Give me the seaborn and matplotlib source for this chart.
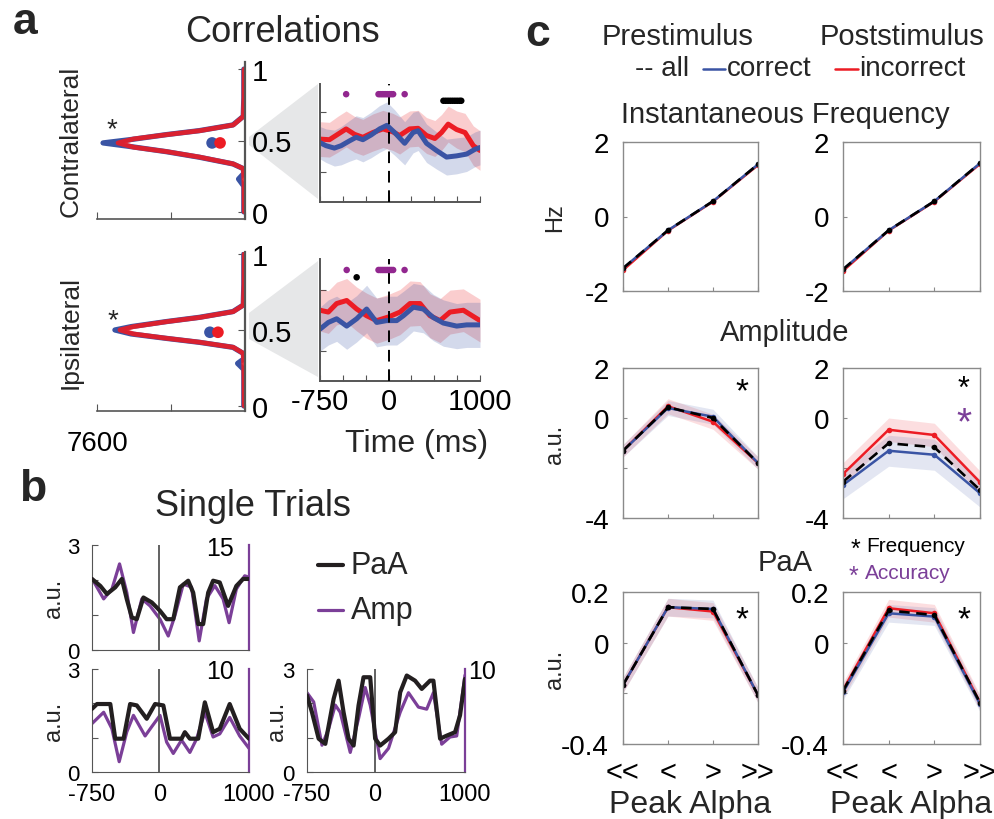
import matplotlib
matplotlib.use("Agg")
import numpy as np
import matplotlib.pyplot as plt
import seaborn as sns
from matplotlib.patches import Polygon
from matplotlib.lines import Line2D

W, H = 995, 820

sns.set_style("ticks")
plt.rcParams["font.family"] = ["Liberation Sans", "DejaVu Sans"]
plt.rcParams["xtick.direction"] = "in"
plt.rcParams["ytick.direction"] = "in"
plt.rcParams["axes.edgecolor"] = "#555555"
plt.rcParams["xtick.color"] = "#555555"
plt.rcParams["ytick.color"] = "#555555"
plt.rcParams["xtick.labelcolor"] = "black"
plt.rcParams["ytick.labelcolor"] = "black"

RED = "#ec1c24"
BLUE = "#3a54a4"
PURPLE = "#7b3f98"
SIGPURPLE = "#92278f"
WEDGE = "#e6e7e8"

# ---------------- (a) correlation distributions (count per correlation bin)
contra_corr_incorrect = [0.00, 0.20, 0.303, 0.336, 0.383, 0.422, 0.453, 0.483, 0.511, 0.541, 0.569, 0.609, 0.669, 0.80, 1.00]
contra_count_incorrect = [40, 50, 85, 600, 2300, 4010, 5720, 6520, 5720, 4010, 2300, 600, 85, 50, 40]
contra_corr_correct = [0.00, 0.18, 0.23, 0.27, 0.303, 0.336, 0.383, 0.422, 0.458, 0.483, 0.506, 0.541, 0.569, 0.609, 0.669, 0.80, 1.00]
contra_count_correct = [60, 60, 330, 60, 90, 620, 2350, 4050, 5900, 7290, 5900, 4050, 2350, 620, 90, 60, 60]

ipsi_corr_incorrect = [0.00, 0.20, 0.346, 0.386, 0.419, 0.445, 0.474, 0.500, 0.522, 0.555, 0.583, 0.621, 0.664, 0.80, 1.00]
ipsi_count_incorrect = [40, 50, 85, 600, 2300, 4010, 5720, 6420, 5720, 4010, 2300, 600, 85, 50, 40]
ipsi_corr_correct = [0.00, 0.24, 0.28, 0.31, 0.346, 0.386, 0.419, 0.445, 0.474, 0.500, 0.522, 0.555, 0.583, 0.621, 0.664, 0.80, 1.00]
ipsi_count_correct = [60, 60, 380, 60, 90, 620, 2350, 4050, 5850, 6680, 5850, 4050, 2350, 620, 90, 60, 60]

contra_mean_corr = [0.483, 0.483]
contra_mean_count = [1690, 1280]
ipsi_mean_corr = [0.485, 0.485]
ipsi_mean_count = [1800, 1390]

# (a) correlation time courses, mean and SEM
contra_t_correct = [-750, -684, -593, -519, -428, -355, -281, -190, -98, -18, 66, 176, 268, 323, 415, 524, 634, 744, 854, 945, 1000]
contra_r_correct = [0.499, 0.494, 0.490, 0.494, 0.502, 0.508, 0.504, 0.512, 0.522, 0.528, 0.516, 0.498, 0.516, 0.519, 0.498, 0.486, 0.475, 0.477, 0.480, 0.488, 0.491]
contra_sem_correct = [0.027, 0.028, 0.030, 0.032, 0.034, 0.036, 0.037, 0.038, 0.039, 0.039, 0.038, 0.036, 0.034, 0.033, 0.032, 0.031, 0.030, 0.030, 0.029, 0.029, 0.029]
contra_t_incorrect = [-750, -647, -556, -464, -373, -281, -172, -62, 48, 121, 231, 323, 415, 506, 579, 652, 744, 836, 927, 1000]
contra_r_incorrect = [0.505, 0.504, 0.513, 0.522, 0.513, 0.508, 0.516, 0.522, 0.517, 0.511, 0.522, 0.523, 0.511, 0.506, 0.516, 0.530, 0.521, 0.516, 0.494, 0.486]
contra_sem_incorrect = [0.029, 0.029, 0.030, 0.030, 0.030, 0.030, 0.031, 0.031, 0.031, 0.031, 0.030, 0.030, 0.030, 0.030, 0.030, 0.030, 0.031, 0.032, 0.033, 0.033]

ipsi_t_correct = [-750, -659, -568, -458, -349, -240, -130, -21, 89, 162, 271, 380, 490, 599, 745, 854, 1000]
ipsi_r_correct = [0.485, 0.496, 0.502, 0.490, 0.502, 0.518, 0.496, 0.499, 0.499, 0.507, 0.521, 0.518, 0.504, 0.495, 0.490, 0.492, 0.492]
ipsi_sem_correct = [0.036, 0.037, 0.037, 0.038, 0.038, 0.039, 0.040, 0.040, 0.040, 0.040, 0.039, 0.039, 0.038, 0.038, 0.037, 0.037, 0.037]
ipsi_t_incorrect = [-750, -659, -568, -458, -349, -240, -130, 0, 125, 234, 344, 453, 563, 672, 818, 1000]
ipsi_r_incorrect = [0.516, 0.513, 0.527, 0.532, 0.518, 0.507, 0.499, 0.505, 0.513, 0.527, 0.527, 0.507, 0.499, 0.513, 0.516, 0.499]
ipsi_sem_incorrect = [0.034, 0.035, 0.035, 0.036, 0.036, 0.037, 0.037, 0.037, 0.037, 0.037, 0.036, 0.036, 0.036, 0.036, 0.035, 0.035]

# significant time points (accuracy effect / frequency effect)
contra_sig_acc_t = [-464, -110, -90, -70, -50, -30, -10, 10, 30, 50, 176]
contra_sig_freq_t = [600, 625, 650, 675, 700, 725, 750, 775, 795]
ipsi_sig_acc_t = [-458, -110, -90, -70, -50, -30, -10, 10, 30, 50, 175]
ipsi_sig_freq_t = [-349]

# ---------------- (b) single trials
st1_t_paa = [-750, -657, -584, -491, -417, -362, -306, -251, -177, -84, 8, 82, 156, 230, 322, 378, 434, 489, 545, 600, 674, 767, 859, 934, 1000]
st1_paa = [2.03, 1.83, 1.60, 1.79, 2.03, 1.45, 0.93, 0.88, 1.50, 1.36, 1.12, 0.88, 0.88, 1.79, 1.98, 1.64, 0.74, 0.74, 1.64, 1.98, 1.93, 1.26, 1.83, 2.03, 2.03]
st1_t_amp = [-750, -620, -528, -443, -362, -288, -195, -103, 8, 100, 174, 267, 359, 445, 526, 619, 711, 778, 859, 952, 1000]
st1_amp = [10.2, 7.3, 8.7, 12.3, 8.2, 2.5, 7.3, 6.3, 4.4, 2.0, 4.9, 9.4, 9.0, 1.3, 7.3, 9.2, 7.3, 3.9, 8.7, 10.6, 10.4]

st2_t_paa = [-750, -694, -546, -491, -398, -325, -251, -140, -47, 45, 119, 248, 285, 341, 434, 508, 600, 674, 785, 896, 1000]
st2_paa = [1.84, 1.98, 1.98, 0.97, 0.97, 1.98, 1.94, 1.55, 1.98, 1.94, 0.97, 0.97, 1.16, 0.97, 0.97, 2.03, 1.16, 1.26, 1.98, 1.26, 0.97]
st2_t_amp = [-750, -620, -528, -447, -362, -288, -158, -84, 8, 82, 156, 248, 341, 415, 508, 600, 674, 785, 896, 1000]
st2_amp = [4.7, 5.8, 4.2, 1.0, 3.9, 5.5, 3.5, 4.4, 5.5, 2.9, 1.8, 3.1, 1.9, 3.2, 5.8, 3.4, 3.7, 5.3, 3.5, 2.3]

st3_t_paa = [-750, -695, -621, -547, -455, -400, -345, -289, -234, -179, -124, -50, 5, 60, 153, 226, 282, 355, 447, 521, 613, 650, 724, 798, 890, 945, 1000]
st3_paa = [2.23, 1.74, 0.97, 0.82, 2.13, 2.66, 1.74, 0.97, 0.77, 1.94, 2.76, 2.76, 0.97, 0.77, 0.97, 1.16, 2.32, 2.81, 2.66, 2.42, 2.66, 2.66, 0.97, 1.06, 1.16, 1.65, 2.71]
st3_t_amp = [-750, -676, -584, -510, -437, -382, -271, -179, -105, -50, 60, 153, 282, 374, 484, 576, 650, 742, 834, 908, 1000]
st3_amp = [7.7, 6.8, 2.6, 4.2, 6.5, 5.8, 1.9, 5.2, 8.2, 6.5, 1.3, 2.3, 5.8, 7.7, 6.3, 6.1, 7.7, 2.7, 3.4, 3.5, 9.4]

# ---------------- (c) peak-alpha bins
bins = [1, 2, 3, 4]
bin_labels = ["<<", "<", ">", ">>"]

if_pre_all = [-1.39, -0.37, 0.41, 1.40]
if_pre_correct = [-1.39, -0.37, 0.41, 1.40]
if_pre_incorrect = [-1.44, -0.38, 0.40, 1.38]
if_post_all = [-1.42, -0.37, 0.41, 1.43]
if_post_correct = [-1.42, -0.37, 0.41, 1.43]
if_post_incorrect = [-1.46, -0.38, 0.40, 1.41]

amp_pre_all = [-1.31, 0.43, 0.00, -1.80]
amp_pre_correct = [-1.31, 0.40, 0.05, -1.80]
amp_pre_incorrect = [-1.31, 0.47, -0.15, -1.80]
amp_pre_sem = [0.25, 0.30, 0.30, 0.25]
amp_post_all = [-2.55, -1.01, -1.17, -2.88]
amp_post_correct = [-2.68, -1.31, -1.47, -3.01]
amp_post_incorrect = [-2.24, -0.47, -0.68, -2.57]
amp_post_sem_correct = [0.55, 0.62, 0.62, 0.55]
amp_post_sem_incorrect = [0.45, 0.47, 0.47, 0.45]

paa_pre_all = [-0.167, 0.140, 0.133, -0.207]
paa_pre_correct = [-0.167, 0.140, 0.133, -0.207]
paa_pre_incorrect = [-0.167, 0.140, 0.123, -0.207]
paa_pre_sem = [0.03, 0.035, 0.035, 0.03]
paa_post_all = [-0.190, 0.127, 0.109, -0.237]
paa_post_correct = [-0.196, 0.116, 0.103, -0.243]
paa_post_incorrect = [-0.187, 0.136, 0.116, -0.236]
paa_post_sem = [0.03, 0.035, 0.035, 0.03]

fig = plt.figure(figsize=(W / 100, H / 100), dpi=100)


def add_ax(x0, y0, x1, y1):
    return fig.add_axes([x0 / W, 1 - y1 / H, (x1 - x0) / W, (y1 - y0) / H])


def ftext(x, y, s, **kw):
    kw.setdefault("ha", "center")
    kw.setdefault("va", "center")
    fig.text(x / W, 1 - y / H, s, **kw)


def fline(x0, x1, y, **kw):
    fig.add_artist(Line2D([x0 / W, x1 / W], [1 - y / H, 1 - y / H], transform=fig.transFigure, **kw))


def wedge(pts):
    fig.add_artist(Polygon([(x / W, 1 - y / H) for x, y in pts], closed=True,
                           transform=fig.transFigure, facecolor=WEDGE, edgecolor="none", zorder=-5))


# ---------------- panel a
def dist_axis(box, corr_c, cnt_c, corr_i, cnt_i, mean_corr, mean_cnt, ylim, show_count, label):
    ax = add_ax(*box)
    ax.set_facecolor("none")
    sns.lineplot(x=cnt_c, y=corr_c, orient="y", sort=False, estimator=None, color=BLUE, lw=3.8, ax=ax)
    sns.lineplot(x=cnt_i, y=corr_i, orient="y", sort=False, estimator=None, color=RED, lw=3.4, alpha=0.9, ax=ax)
    sns.scatterplot(x=mean_cnt, y=mean_corr, hue=["correct", "incorrect"], palette=[BLUE, RED],
                    s=70, edgecolor="none", legend=False, ax=ax, zorder=5)
    ax.set_xlim(7600, 0)
    ax.set_ylim(*ylim)
    for s in ["top", "left"]:
        ax.spines[s].set_visible(False)
    ax.spines["right"].set_linewidth(1.6)
    ax.spines["bottom"].set_linewidth(1.2)
    ax.yaxis.tick_right()
    ax.set_yticks([0, 0.5, 1])
    ax.set_yticklabels(["0", "0.5", "1"])
    ax.tick_params(axis="y", labelsize=21, pad=5, length=5)
    ax.set_xticks([7600, 3800, 0])
    ax.set_xticklabels(["7600" if show_count else "", "", ""])
    ax.tick_params(axis="x", labelsize=20, pad=14, length=5)
    ax.set_xlabel("")
    ax.set_ylabel(label, fontsize=19)
    ax.yaxis.set_label_position("left")
    ax.yaxis.set_label_coords(-0.10, 0.5)
    return ax


def timecourse_axis(box, tc, rc, sc, ti, ri, si, sig_acc, sig_freq, acc_y, freq_y, ylim, show_labels):
    ax = add_ax(*box)
    ax.set_facecolor("none")
    ri_a, si_a = np.array(ri), np.array(si)
    rc_a, sc_a = np.array(rc), np.array(sc)
    ax.fill_between(ti, ri_a - si_a, ri_a + si_a, color=RED, alpha=0.22, lw=0)
    sns.lineplot(x=ti, y=ri, estimator=None, color=RED, lw=3.6, ax=ax)
    ax.fill_between(tc, rc_a - sc_a, rc_a + sc_a, color=BLUE, alpha=0.22, lw=0)
    sns.lineplot(x=tc, y=rc, estimator=None, color=BLUE, lw=3.6, ax=ax)
    ax.axvline(0, color="black", lw=1.4, dashes=(6, 4), zorder=6)
    sns.scatterplot(x=sig_acc, y=[acc_y] * len(sig_acc), color=SIGPURPLE, s=22, edgecolor="none", ax=ax, zorder=7)
    sns.scatterplot(x=sig_freq, y=[freq_y] * len(sig_freq), color="black", s=22, edgecolor="none", ax=ax, zorder=7)
    ax.set_xlim(-750, 1000)
    ax.set_ylim(*ylim)
    for s in ["top", "right"]:
        ax.spines[s].set_visible(False)
    ax.spines["left"].set_linewidth(1.4)
    ax.spines["bottom"].set_linewidth(1.4)
    ax.set_yticks([0.45, 0.55])
    ax.set_yticklabels([])
    ax.tick_params(axis="y", length=4)
    ax.set_xticks(list(range(-750, 1001, 250)))
    if show_labels:
        ax.set_xticklabels(["-750", "", "", "0", "", "", "", "1000"])
    else:
        ax.set_xticklabels([])
    ax.tick_params(axis="x", labelsize=21, pad=4, length=4)
    ax.set_xlabel("")
    ax.set_ylabel("")
    return ax


wedge([(249, 138), (249, 146), (318, 200), (318, 85)])
wedge([(249, 314), (249, 340), (318, 378), (318, 262)])

dist_axis((97, 63, 245, 220), contra_corr_correct, contra_count_correct,
          contra_corr_incorrect, contra_count_incorrect, contra_mean_corr, contra_mean_count,
          (-0.05, 1.05), False, "Contralateral")
dist_axis((97, 253, 245, 412), ipsi_corr_correct, ipsi_count_correct,
          ipsi_corr_incorrect, ipsi_count_incorrect, ipsi_mean_corr, ipsi_mean_count,
          (-0.033, 1.013), True, "Ipsilateral")

timecourse_axis((320, 85, 480, 203), contra_t_correct, contra_r_correct, contra_sem_correct,
                contra_t_incorrect, contra_r_incorrect, contra_sem_incorrect,
                contra_sig_acc_t, contra_sig_freq_t, 0.580, 0.569, (0.40, 0.597), False)
timecourse_axis((320, 260, 480, 382), ipsi_t_correct, ipsi_r_correct, ipsi_sem_correct,
                ipsi_t_incorrect, ipsi_r_incorrect, ipsi_sem_incorrect,
                ipsi_sig_acc_t, ipsi_sig_freq_t, 0.582, 0.570, (0.40, 0.60), True)

ftext(25, 22, "a", fontsize=32, fontweight="bold")
ftext(282, 32, "Correlations", fontsize=26)
ftext(112, 130, "*", fontsize=20)
ftext(113, 321, "*", fontsize=20)
ftext(417, 444, "Time (ms)", fontsize=23)


# ---------------- panel b
def trial_axis(box, t_paa, paa, t_amp, amp, amp_max, show_x, right_pad):
    ax = add_ax(*box)
    ax.set_facecolor("none")
    ax.axvline(0, color="#555555", lw=1.3, zorder=1)
    sns.lineplot(x=t_paa, y=paa, estimator=None, color="#231f20", lw=3.0, ax=ax, zorder=4)
    ax.set_xlim(-750, 1000)
    ax.set_ylim(0, 3)
    ax.spines["top"].set_visible(False)
    ax.spines["right"].set_visible(False)
    ax.set_yticks([0, 1, 2, 3])
    ax.set_yticklabels(["0", "", "", "3"])
    ax.tick_params(axis="y", labelsize=16, pad=9, length=4)
    ax.set_xticks([-750, 0, 1000])
    ax.set_xticklabels(["-750", "0", "1000"] if show_x else [])
    ax.tick_params(axis="x", labelsize=17, pad=8, length=0)
    ax.set_ylabel("a.u.", fontsize=17)
    ax.yaxis.set_label_coords(-0.17 if box[0] < 200 else -0.12, 0.5)
    ax.set_xlabel("")

    ax2 = ax.twinx()
    sns.lineplot(x=t_amp, y=amp, estimator=None, color=PURPLE, lw=2.3, ax=ax2, zorder=3)
    ax2.set_ylim(0, amp_max)
    ax2.set_ylabel("")
    ax2.spines["top"].set_visible(False)
    ax2.spines["left"].set_visible(False)
    ax2.spines["bottom"].set_visible(False)
    ax2.spines["right"].set_color(PURPLE)
    ax2.spines["right"].set_linewidth(1.6)
    ax2.set_yticks([amp_max])
    ax2.set_yticklabels([str(amp_max)])
    ax2.tick_params(axis="y", labelsize=18, length=0, pad=right_pad)
    ax2.set_zorder(ax.get_zorder() - 1)
    ax.patch.set_visible(False)
    return ax


trial_axis((92, 546, 249, 651), st1_t_paa, st1_paa, st1_t_amp, st1_amp, 15, False, -31)
trial_axis((92, 670, 249, 773), st2_t_paa, st2_paa, st2_t_amp, st2_amp, 10, True, -31)
trial_axis((307, 670, 465, 773), st3_t_paa, st3_paa, st3_t_amp, st3_amp, 10, True, 2)

ftext(33, 490, "b", fontsize=32, fontweight="bold")
ftext(253, 507, "Single Trials", fontsize=26)
fline(318, 343, 566, color="#231f20", lw=3.0)
fline(318, 343, 611, color=PURPLE, lw=2.3)
ftext(351, 566, "PaA", fontsize=22, ha="left")
ftext(351, 611, "Amp", fontsize=22, ha="left")


# ---------------- panel c
def bin_axis(box, ylim, yticks, ylabels, allv, corr, inc, sem_c, sem_i, ylabel, show_x, star_specs):
    ax = add_ax(*box)
    ax.set_facecolor("none")
    c_a, i_a = np.array(corr), np.array(inc)
    if sem_i is not None:
        ax.fill_between(bins, i_a - np.array(sem_i), i_a + np.array(sem_i), color=RED, alpha=0.14, lw=0)
    if sem_c is not None:
        ax.fill_between(bins, c_a - np.array(sem_c), c_a + np.array(sem_c), color=BLUE, alpha=0.14, lw=0)
    sns.lineplot(x=bins, y=inc, estimator=None, color=RED, lw=1.8, marker="o", markersize=4,
                 markeredgewidth=0, ax=ax)
    sns.lineplot(x=bins, y=corr, estimator=None, color=BLUE, lw=1.8, marker="o", markersize=4,
                 markeredgewidth=0, ax=ax)
    sns.lineplot(x=bins, y=allv, estimator=None, color="black", lw=1.9, marker="o", markersize=4,
                 markeredgewidth=0, dashes=(4, 2.5), ax=ax)
    ax.set_xlim(1, 4)
    ax.set_ylim(*ylim)
    for s in ax.spines.values():
        s.set_color("#8a8a8a")
        s.set_linewidth(1.0)
    ax.set_yticks(yticks)
    ax.set_yticklabels(ylabels)
    ax.tick_params(axis="y", labelsize=20, pad=10, length=3, color="#8a8a8a")
    ax.set_xticks(bins)
    ax.set_xticklabels(bin_labels if show_x else [])
    ax.tick_params(axis="x", labelsize=21, pad=10, length=3, color="#8a8a8a")
    ax.set_xlabel("Peak Alpha" if show_x else "", fontsize=23, labelpad=2)
    ax.set_ylabel(ylabel, fontsize=17)
    ax.yaxis.set_label_coords(-0.42, 0.5)
    for (fx, fy, col, fs) in star_specs:
        ax.text(fx, fy, "*", transform=ax.transAxes, color=col, fontsize=fs, ha="center", va="center")
    return ax


LX = (623, 758)
RX = (843, 980)
bin_axis((LX[0], 143, LX[1], 292), (-2, 2), [-2, 0, 2], ["-2", "0", "2"],
         if_pre_all, if_pre_correct, if_pre_incorrect, None, None, "Hz", False, [])
bin_axis((RX[0], 143, RX[1], 292), (-2, 2), [-2, 0, 2], ["-2", "0", "2"],
         if_post_all, if_post_correct, if_post_incorrect, None, None, "", False, [])
bin_axis((LX[0], 369, LX[1], 519), (-4, 2), [-4, -2, 0, 2], ["-4", "", "0", "2"],
         amp_pre_all, amp_pre_correct, amp_pre_incorrect, amp_pre_sem, amp_pre_sem, "a.u.", False,
         [(0.88, 0.84, "black", 24)])
bin_axis((RX[0], 369, RX[1], 519), (-4, 2), [-4, -2, 0, 2], ["-4", "", "0", "2"],
         amp_post_all, amp_post_correct, amp_post_incorrect, amp_post_sem_correct, amp_post_sem_incorrect,
         "", False, [(0.88, 0.86, "black", 22), (0.88, 0.63, PURPLE, 28)])
bin_axis((LX[0], 593, LX[1], 745), (-0.4, 0.2), [-0.4, -0.2, 0, 0.2], ["-0.4", "", "0", "0.2"],
         paa_pre_all, paa_pre_correct, paa_pre_incorrect, paa_pre_sem, paa_pre_sem, "a.u.", True,
         [(0.88, 0.82, "black", 24)])
bin_axis((RX[0], 593, RX[1], 745), (-0.4, 0.2), [-0.4, -0.2, 0, 0.2], ["-0.4", "", "0", "0.2"],
         paa_post_all, paa_post_correct, paa_post_incorrect, paa_post_sem, paa_post_sem, "", True,
         [(0.88, 0.82, "black", 24)])

ftext(538, 35, "c", fontsize=32, fontweight="bold")
ftext(678, 37, "Prestimulus", fontsize=21)
ftext(902, 37, "Poststimulus", fontsize=21)
ftext(635, 69, "-- all", fontsize=20, ha="left")
fline(703, 725, 70, color=BLUE, lw=1.8)
ftext(727, 69, "correct", fontsize=20, ha="left")
fline(835, 858, 70, color=RED, lw=1.8)
ftext(859, 69, "incorrect", fontsize=20, ha="left")
ftext(785, 115, "Instantaneous Frequency", fontsize=21)
ftext(785, 333, "Amplitude", fontsize=21)
ftext(785, 563, "PaA", fontsize=21)
ftext(851, 550, "*", fontsize=18, ha="left", color="black")
ftext(866, 547, "Frequency", fontsize=15, ha="left", color="black")
ftext(849, 577, "*", fontsize=18, ha="left", color=PURPLE)
ftext(865, 574, "Accuracy", fontsize=15, ha="left", color=PURPLE)

fig.savefig("out.png", dpi=100)
